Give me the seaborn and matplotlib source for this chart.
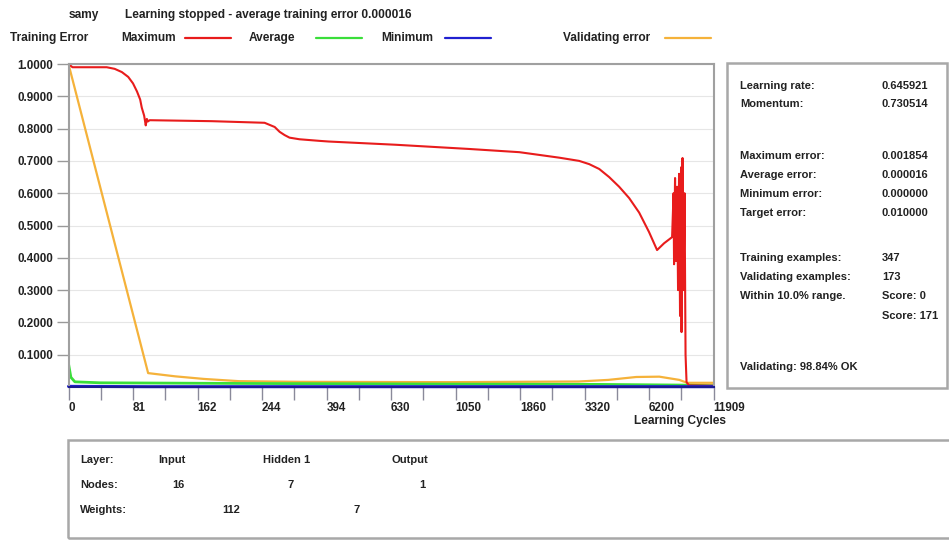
import matplotlib
matplotlib.use("Agg")
import matplotlib.pyplot as plt
import seaborn as sns
import pandas as pd
import numpy as np
from matplotlib.patches import Rectangle
from matplotlib.lines import Line2D

# Cycle values printed under the x axis (the program spaces them evenly)
tick_cycles = [0, 81, 162, 244, 394, 630, 1050, 1860, 3320, 6200, 11909]
y_ticks = [0.1, 0.2, 0.3, 0.4, 0.5, 0.6, 0.7, 0.8, 0.9, 1.0]

# Training error - maximum
max_cycles = [0, 5, 48, 58, 67, 75, 81, 86, 90, 92, 95, 96, 97, 98.4, 99.6, 102,
              180, 250, 273.5, 285, 296.5, 308, 331, 378, 402, 660, 1218, 1852,
              2748, 3200, 3530, 3977, 4420, 4867, 5313, 5760, 6200, 6914, 7535,
              8244, 8374, 8418, 8506, 8595, 8683, 8772, 8860, 8948, 9037, 9081,
              9169, 9258, 9346, 9435, 9523, 9744, 11909]
max_error = [1.0, 0.99, 0.99, 0.985, 0.975, 0.96, 0.94, 0.915, 0.89, 0.865, 0.84,
             0.825, 0.81, 0.83, 0.822, 0.826, 0.823, 0.818, 0.805, 0.79, 0.78,
             0.772, 0.767, 0.762, 0.76, 0.75, 0.737, 0.727, 0.71, 0.70, 0.69,
             0.675, 0.65, 0.62, 0.585, 0.54, 0.48, 0.424, 0.445, 0.464, 0.60,
             0.38, 0.647, 0.39, 0.62, 0.30, 0.66, 0.22, 0.68, 0.17, 0.709, 0.30,
             0.60, 0.10, 0.015, 0.005, 0.004]

# Training error - average
avg_cycles = [0, 3, 8, 40, 215, 1008, 3991, 8883, 11909]
avg_error = [0.072, 0.03, 0.016, 0.013, 0.011, 0.009, 0.008, 0.006, 0.004]

# Training error - minimum
min_cycles = [0, 100, 1008, 6200, 11909]
min_error = [0.002, 0.001, 0.001, 0.001, 0.001]

# Validating error
val_cycles = [0, 100, 134, 170, 215, 331, 1008, 3186, 4384, 5630, 7113, 8883,
              9570, 11909]
val_error = [1.0, 0.043, 0.033, 0.025, 0.018, 0.016, 0.015, 0.017, 0.022, 0.031,
             0.032, 0.022, 0.013, 0.013]

# Side panel
info_rows = [("Learning rate:", "0.645921", 86), ("Momentum:", "0.730514", 104),
             ("Maximum error:", "0.001854", 156), ("Average error:", "0.000016", 175),
             ("Minimum error:", "0.000000", 194), ("Target error:", "0.010000", 213),
             ("Training examples:", "347", 258), ("Validating examples:", "173", 277),
             ("Within 10.0% range.", "Score: 0", 296), ("", "Score: 171", 316),
             ("Validating: 98.84% OK", "", 367)]

RED, GREEN, BLUE, ORANGE = "#e81c1c", "#3ade3a", "#2020d0", "#f5b23a"
W, H = 949, 540

sns.set_style("white")
plt.rcParams['font.family'] = ['Liberation Sans', 'DejaVu Sans']
plt.rcParams['font.size'] = 8
plt.rcParams['font.weight'] = 'bold'
TXT = "#222222"
BIG = 8.6


def px(x, y):
    return x / W, 1 - y / H


fig = plt.figure(figsize=(W / 100, H / 100), dpi=100)
ax = fig.add_axes([68.5 / W, 1 - 387 / H, 645 / W, 323 / H])

pos = np.arange(len(tick_cycles))
fwd = lambda x: np.interp(x, tick_cycles, pos)
inv = lambda p: np.interp(p, pos, tick_cycles)
ax.set_xscale('function', functions=(fwd, inv))

for ty in y_ticks:
    ax.axhline(ty, color="#e6e6e6", lw=0.8, zorder=0)

sns.lineplot(x=val_cycles, y=val_error, ax=ax, color=ORANGE, lw=1.6, sort=False, estimator=None)
sns.lineplot(x=avg_cycles, y=avg_error, ax=ax, color=GREEN, lw=2.0, sort=False, estimator=None)
sns.lineplot(x=max_cycles, y=max_error, ax=ax, color=RED, lw=1.5, sort=False, estimator=None)
sns.lineplot(x=min_cycles, y=min_error, ax=ax, color=BLUE, lw=2.2, sort=False,
             estimator=None, clip_on=False)

ax.set_xlim(0, 11909)
ax.set_ylim(0, 1.0)
ax.set_xticks(tick_cycles)
ax.set_xticklabels([str(c) for c in tick_cycles], ha='left', fontsize=8.4, color=TXT)
ax.set_xticks(inv(pos[:-1] + 0.5), minor=True)
ax.set_yticks(y_ticks)
ax.set_yticklabels([f"{v:.4f}" for v in y_ticks], fontsize=8.4, color=TXT)
ax.tick_params(axis='x', which='both', direction='out', length=9, width=1,
               color="#8a8a9a", bottom=True, pad=2)
ax.tick_params(axis='y', direction='out', length=9, width=1, color="#999999", left=True, pad=2)
ax.set_xlabel("")
ax.set_ylabel("")
for s in ['left', 'top', 'right']:
    ax.spines[s].set_color("#a0a0a0")
    ax.spines[s].set_linewidth(1.5)
ax.spines['bottom'].set_color("#1a1a90")
ax.spines['bottom'].set_linewidth(1.5)

fig.text(*px(680, 421), "Learning Cycles", ha='center', va='center', color=TXT, fontsize=BIG)

# Header and legend row
fig.text(*px(69, 15), "samy", va='center', color=TXT, fontsize=BIG)
fig.text(*px(125, 15), "Learning stopped - average training error 0.000016", va='center',
         color=TXT, fontsize=BIG)
legend_items = [("Training Error", 10, None, None), ("Maximum", 121, RED, 185),
                ("Average", 249, GREEN, 316), ("Minimum", 381, BLUE, 445),
                ("Validating error", 563, ORANGE, 665)]
for label, lx, col, line_x in legend_items:
    fig.text(*px(lx, 38), label, va='center', color=TXT, fontsize=BIG)
    if col is not None:
        fig.add_artist(Line2D([line_x / W, (line_x + 46) / W], [1 - 38 / H] * 2,
                              color=col, lw=1.6, transform=fig.transFigure))

# Right information panel
fig.add_artist(Rectangle(px(727, 388), 220 / W, 325 / H, fill=False,
                         edgecolor="#a8a8a8", lw=1.8, transform=fig.transFigure))
for label, value, ry in info_rows:
    fig.text(*px(740, ry), label, va='center', color=TXT)
    fig.text(*px(882, ry), value, va='center', color=TXT)

# Bottom network panel
fig.add_artist(Rectangle(px(68, 538), 900 / W, 98 / H, fill=False,
                         edgecolor="#a8a8a8", lw=1.8, transform=fig.transFigure))
net_texts = [("Layer:", 80, 460), ("Input", 158, 460), ("Hidden 1", 263, 460),
             ("Output", 392, 460), ("Nodes:", 80, 485), ("16", 172, 485),
             ("7", 288, 485), ("1", 419, 485), ("Weights:", 80, 510),
             ("112", 222, 510), ("7", 354, 510)]
for t, tx, ty in net_texts:
    fig.text(*px(tx, ty), t, va='center', color=TXT)

fig.savefig("out.png", dpi=100)
